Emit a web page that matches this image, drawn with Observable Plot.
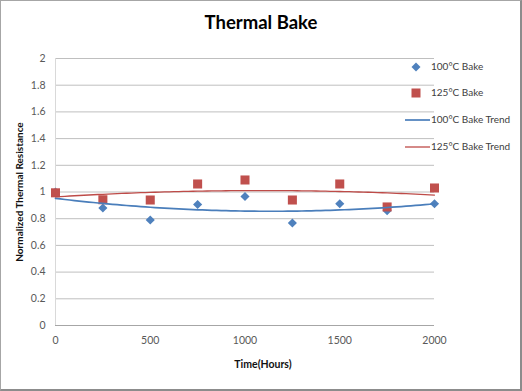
<!DOCTYPE html>
<html>
<head>
<meta charset="utf-8">
<script src="https://cdn.jsdelivr.net/npm/d3@7"></script>
<script src="https://cdn.jsdelivr.net/npm/@observablehq/plot@0.6"></script>
<style>
  html, body { margin: 0; padding: 0; background: #fff; }
  #wrap { position: relative; width: 522px; height: 391px; overflow: hidden; font-family: Lato, "Liberation Sans", sans-serif; }
  #wrap svg { position: absolute; left: 0; top: 0; }
  .frame { position: absolute; left: 0; top: 0; width: 522px; height: 391px; box-sizing: border-box; border: 1px solid #a6a6a6; border-right: 2px solid #8c8c8c; border-bottom: 2px solid #8c8c8c; pointer-events: none; }
  .title { position: absolute; left: 0; width: 522px; top: 11px; text-align: center; font-weight: bold; font-size: 18.5px; color: #000; }
  .xlabel { position: absolute; left: 213px; width: 100px; top: 358px; text-align: center; font-weight: bold; font-size: 10.5px; color: #111; }
  .ylabel { position: absolute; left: 19px; top: 192px; transform: translate(-50%, -50%) rotate(-90deg); white-space: nowrap; font-weight: bold; font-size: 10px; color: #111; }
  .legend { position: absolute; left: 400px; top: 58px; font-size: 10px; color: #404040; }
  .li { position: absolute; left: 0; height: 16px; width: 130px; }
  .li span { position: absolute; left: 31px; top: 1px; white-space: nowrap; }
  .li svg { position: absolute; left: 0; top: 0; }
</style>
</head>
<body>
<div id="wrap">
  <div class="title">Thermal Bake</div>
  <div class="ylabel">Normalized Thermal Resistance</div>
  <div class="xlabel">Time(Hours)</div>
  <div class="legend" id="legend"></div>
  <div class="frame"></div>
</div>
<script>
// ---- data ----
const hours = [0, 250, 500, 750, 1000, 1250, 1500, 1750, 2000];
const bake100 = [1.0, 0.88, 0.79, 0.906, 0.966, 0.768, 0.912, 0.86, 0.912];
const bake125 = [0.994, 0.942, 0.94, 1.06, 1.09, 0.94, 1.06, 0.888, 1.03];
const seriesNames = ["100°C Bake", "125°C Bake", "100°C Bake Trend", "125°C Bake Trend"];
const yTicks = [0, 0.2, 0.4, 0.6, 0.8, 1, 1.2, 1.4, 1.6, 1.8, 2];
const xTicks = [0, 500, 1000, 1500, 2000];

const colBlue = "#4f81bd", colRed = "#c0504d";
const colBlueLine = "#4a7ebb", colRedLine = "#be4b48";

// quadratic least-squares trend (like Excel's polynomial trendline, order 2)
function quadFit(xs, ys) {
  const n = xs.length;
  let s = [0,0,0,0,0], t = [0,0,0];
  for (let i = 0; i < n; i++) {
    const x = xs[i] / 1000, y = ys[i];
    let p = 1;
    for (let k = 0; k < 5; k++) { s[k] += p; if (k < 3) t[k] += p * y; p *= x; }
  }
  const A = [[s[0], s[1], s[2], t[0]], [s[1], s[2], s[3], t[1]], [s[2], s[3], s[4], t[2]]];
  for (let i = 0; i < 3; i++) {
    for (let j = i + 1; j < 3; j++) {
      const f = A[j][i] / A[i][i];
      for (let k = i; k < 4; k++) A[j][k] -= f * A[i][k];
    }
  }
  const c = [0,0,0];
  for (let i = 2; i >= 0; i--) {
    let v = A[i][3];
    for (let k = i + 1; k < 3; k++) v -= A[i][k] * c[k];
    c[i] = v / A[i][i];
  }
  return x => c[0] + c[1] * (x / 1000) + c[2] * (x / 1000) ** 2;
}
const f100 = quadFit(hours, bake100);
const f125 = quadFit(hours, bake125);
const xs = d3.range(0, 2001, 25);
const trend100 = xs.map(x => ({x, y: f100(x)}));
const trend125 = xs.map(x => ({x, y: f125(x)}));

const pts100 = hours.map((h, i) => ({x: h, y: bake100[i]}));
const pts125 = hours.map((h, i) => ({x: h, y: bake125[i]}));

const chart = Plot.plot({
  width: 522,
  height: 391,
  marginLeft: 55,
  marginRight: 88,
  marginTop: 58,
  marginBottom: 66,
  style: { fontFamily: "Lato, 'Liberation Sans', sans-serif", fontSize: "10.5px", color: "#595959", background: "transparent" },
  x: { domain: [0, 2000], ticks: xTicks, tickSize: 0, tickPadding: 11, label: null, tickFormat: d => String(d) },
  y: { domain: [0, 2], ticks: yTicks, tickSize: 0, tickPadding: 10, label: null, tickFormat: d => String(+d.toFixed(1)) },
  marks: [
    Plot.gridY(yTicks.filter(d => d > 0), { stroke: "#bfbfbf", strokeOpacity: 1 }),
    Plot.ruleX([0], { stroke: "#d9d9d9" }),
    Plot.ruleY([0], { stroke: "#a6a6a6" }),
    Plot.dot(pts100, { x: "x", y: "y", symbol: "diamond2", r: 4.1, fill: colBlue, stroke: null }),
    Plot.dot(pts125, { x: "x", y: "y", symbol: "square", r: 5.1, fill: colRed, stroke: null }),
    Plot.line(trend100, { x: "x", y: "y", stroke: colBlueLine, strokeWidth: 1.7 }),
    Plot.line(trend125, { x: "x", y: "y", stroke: colRedLine, strokeWidth: 1.3 })
  ]
});
document.getElementById("wrap").insertBefore(chart, document.querySelector(".title"));

// legend
const legend = document.getElementById("legend");
const tops = [1, 27, 54, 81];
seriesNames.forEach((name, i) => {
  const d = document.createElement("div");
  d.className = "li";
  d.style.top = tops[i] + "px";
  let sym = "";
  if (i === 0) sym = `<polygon points="16,3.5 20.5,8 16,12.5 11.5,8" fill="${colBlue}"/>`;
  else if (i === 1) sym = `<rect x="11.5" y="3.5" width="9" height="9" fill="${colRed}"/>`;
  else if (i === 2) sym = `<line x1="5" x2="30" y1="8" y2="8" stroke="${colBlueLine}" stroke-width="1.7"/>`;
  else sym = `<line x1="5" x2="30" y1="8" y2="8" stroke="${colRedLine}" stroke-width="1.3"/>`;
  d.innerHTML = `<svg width="32" height="16">${sym}</svg><span>${name}</span>`;
  legend.appendChild(d);
});
</script>
</body>
</html>
